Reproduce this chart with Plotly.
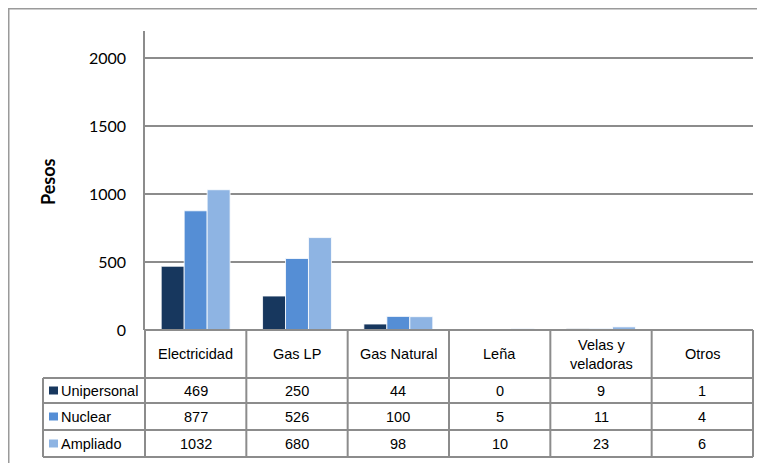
import plotly.graph_objects as go

categories = ["Electricidad", "Gas LP", "Gas Natural", "Leña", "Velas y<br>veladoras", "Otros"]
series_names = ["Unipersonal", "Nuclear", "Ampliado"]
unipersonal = [469, 250, 44, 0, 9, 1]
nuclear = [877, 526, 100, 5, 11, 4]
ampliado = [1032, 680, 98, 10, 23, 6]
series_values = [unipersonal, nuclear, ampliado]
colors = ["#17375E", "#558ED5", "#8EB4E3"]
y_ticks = [0, 500, 1000, 1500, 2000]

OFF = 8  # page body margin offset
W, H = 765 - OFF, 463 - OFF
L, R, T, B = 145, 753, 31, 330  # plot area in screen pixels
PW, PH = R - L, B - T


def px(x):
    return (x - L) / PW


def py(y):
    return (B - y) / PH


fig = go.Figure()
for name, vals, col in zip(series_names, series_values, colors):
    fig.add_trace(go.Bar(
        x=list(range(len(categories))), y=vals, name=name,
        marker=dict(color=col, line=dict(color="white", width=0.8)),
        showlegend=False,
    ))

grid = "#8C8C8C"
shapes = []
annotations = []

# outer frame
shapes.append(dict(type="line", xref="paper", yref="paper", x0=px(8), x1=px(770), y0=py(8.5), y1=py(8.5),
                   line=dict(color="#9A9A9A", width=2)))
shapes.append(dict(type="line", xref="paper", yref="paper", x0=px(8.5), x1=px(8.5), y0=py(8), y1=py(470),
                   line=dict(color="#9A9A9A", width=2)))

# table geometry
n = len(categories)
colw = PW / n
row_tops = [B, 378, 403, 430, 457]
label_left = 43

shapes.append(dict(type="line", xref="paper", yref="paper", x0=px(L), x1=px(R), y0=py(B), y1=py(B),
                   line=dict(color=grid, width=2)))
for yy in row_tops[1:]:
    shapes.append(dict(type="line", xref="paper", yref="paper", x0=px(label_left), x1=px(R), y0=py(yy), y1=py(yy),
                       line=dict(color=grid, width=2)))
for i in range(n + 1):
    xx = L + i * colw
    shapes.append(dict(type="line", xref="paper", yref="paper", x0=px(xx), x1=px(xx), y0=py(B), y1=py(row_tops[-1]),
                       line=dict(color=grid, width=2)))
shapes.append(dict(type="line", xref="paper", yref="paper", x0=px(label_left), x1=px(label_left),
                   y0=py(row_tops[1]), y1=py(row_tops[-1]), line=dict(color=grid, width=2)))

tfont = dict(family="Liberation Sans, Arial", size=14.5, color="black")
for i, c in enumerate(categories):
    annotations.append(dict(xref="paper", yref="paper", x=px(L + (i + 0.5) * colw),
                            y=py((row_tops[0] + row_tops[1]) / 2), text=c, showarrow=False,
                            font=tfont, xanchor="center", yanchor="middle"))
for r, (name, vals, col) in enumerate(zip(series_names, series_values, colors)):
    yc = (row_tops[r + 1] + row_tops[r + 2]) / 2
    shapes.append(dict(type="rect", xref="paper", yref="paper", x0=px(49), x1=px(58), y0=py(yc - 4), y1=py(yc + 4),
                       fillcolor=col, line=dict(width=0)))
    annotations.append(dict(xref="paper", yref="paper", x=px(59), y=py(yc), text=name, showarrow=False,
                            font=tfont, xanchor="left", yanchor="middle"))
    for i, v in enumerate(vals):
        annotations.append(dict(xref="paper", yref="paper", x=px(L + (i + 0.5) * colw), y=py(yc),
                                text=str(v), showarrow=False, font=tfont, xanchor="center", yanchor="middle"))

annotations.append(dict(xref="paper", yref="paper", x=px(48), y=py(182), text="<b>Pesos</b>", textangle=-90,
                        showarrow=False, font=dict(family="Lato, Carlito, Calibri", size=18, color="black"),
                        xanchor="center", yanchor="middle"))

fig.update_layout(
    width=W, height=H,
    margin=dict(l=L - OFF, r=W + OFF - R, t=T - OFF, b=H + OFF - B, pad=0),
    paper_bgcolor="white", plot_bgcolor="white",
    barmode="group", bargap=0.32, bargroupgap=0,
    shapes=shapes, annotations=annotations,
    xaxis=dict(range=[-0.5, n - 0.5], showticklabels=False, showgrid=False, zeroline=False,
               showline=False, ticks=""),
    yaxis=dict(range=[0, 2200], tickvals=y_ticks, ticktext=[str(t) for t in y_ticks],
               showgrid=True, gridcolor=grid, gridwidth=1.5, zeroline=False,
               showline=True, linecolor=grid, linewidth=1.5,
               ticks="",
               tickfont=dict(family="Lato, Carlito, Calibri", size=16, color="black"),
               ticklabelstandoff=14),
)

fig.write_html("out.html")
